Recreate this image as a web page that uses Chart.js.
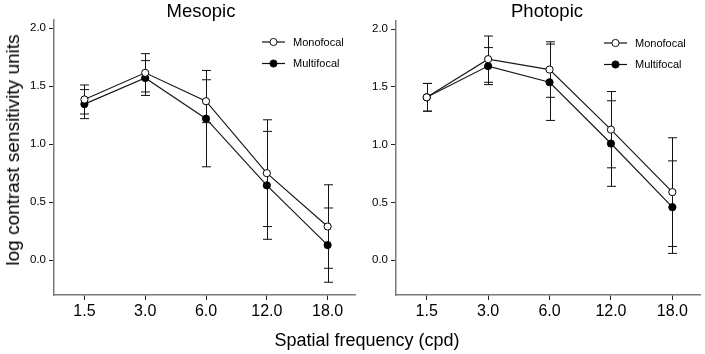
<!DOCTYPE html>
<html>
<head>
<meta charset="utf-8">
<script src="https://cdn.jsdelivr.net/npm/chart.js@4.4.1/dist/chart.umd.min.js"></script>
<style>
  body { margin: 0; background: #fff; }
  #wrap { position: relative; width: 705px; height: 354px; background: #fff; font-family: "Liberation Sans", Arial, sans-serif; color: #000; }
  #c-meso { position: absolute; left: 0; top: 0; }
  #c-photo { position: absolute; left: 360px; top: 0; }
  .ttl { position: absolute; top: 0px; font-size: 18.5px; white-space: nowrap; transform: translateX(-50%); }
  #ylab { position: absolute; left: 13px; top: 150px; font-size: 19px; white-space: nowrap; transform: translate(-50%, -50%) rotate(-90deg); }
  #xlab { position: absolute; left: 367px; top: 340px; font-size: 18px; white-space: nowrap; transform: translate(-50%, -50%); }
</style>
</head>
<body>
<div id="wrap">
  <canvas id="c-meso" width="360" height="354"></canvas>
  <canvas id="c-photo" width="345" height="354"></canvas>
  <div class="ttl" style="left:201px">Mesopic</div>
  <div class="ttl" style="left:547px">Photopic</div>
  <div id="ylab">log contrast sensitivity units</div>
  <div id="xlab">Spatial frequency (cpd)</div>
</div>
<script>
/* contrast sensitivity, mean ± SD */
const freqLabels = ["1.5", "3.0", "6.0", "12.0", "18.0"];
const yTicks = [0, 0.5, 1.0, 1.5, 2.0];

const mesopicMono = [1.385, 1.615, 1.37, 0.75, 0.29];
const mesopicMonoSd = [0.125, 0.165, 0.185, 0.46, 0.36];
const mesopicMulti = [1.345, 1.57, 1.22, 0.645, 0.13];
const mesopicMultiSd = [0.125, 0.15, 0.415, 0.465, 0.32];

const photopicMono = [1.41, 1.74, 1.65, 1.13, 0.59];
const photopicMonoSd = [0.12, 0.2, 0.24, 0.33, 0.47];
const photopicMulti = [1.41, 1.68, 1.54, 1.01, 0.46];
const photopicMultiSd = [0.12, 0.16, 0.33, 0.37, 0.4];

const FONT = "'Liberation Sans', Arial, sans-serif";
const AXIS = "#7a7a7a";

const errorBars = {
  id: "errorBars",
  beforeDatasetsDraw(chart) {
    const { ctx, scales } = chart;
    ctx.save();
    ctx.strokeStyle = "#111";
    ctx.lineWidth = 1;
    chart.data.datasets.forEach((ds) => {
      ds.data.forEach((p, i) => {
        const sd = ds.sd[i];
        const x = Math.round(scales.x.getPixelForValue(p.x)) + 0.5;
        const y1 = scales.y.getPixelForValue(p.y + sd);
        const y2 = scales.y.getPixelForValue(p.y - sd);
        ctx.beginPath();
        ctx.moveTo(x, y1);
        ctx.lineTo(x, y2);
        ctx.moveTo(x - 4.5, y1);
        ctx.lineTo(x + 4.5, y1);
        ctx.moveTo(x - 4.5, y2);
        ctx.lineTo(x + 4.5, y2);
        ctx.stroke();
      });
    });
    ctx.restore();
  },
};

const insetLegend = {
  id: "insetLegend",
  afterDraw(chart) {
    const { ctx, chartArea } = chart;
    const x0 = chartArea.left + 208;
    ctx.save();
    ctx.font = "11px " + FONT;
    ctx.textBaseline = "middle";
    chart.data.datasets.forEach((ds, i) => {
      const y = chartArea.top + 22 + i * 21.5;
      ctx.strokeStyle = "#111";
      ctx.lineWidth = 1.2;
      ctx.beginPath();
      ctx.moveTo(x0, y);
      ctx.lineTo(x0 + 23, y);
      ctx.stroke();
      ctx.lineWidth = 1;
      ctx.beginPath();
      ctx.arc(x0 + 11.5, y, 3.6, 0, Math.PI * 2);
      ctx.fillStyle = ds.pointBackgroundColor;
      ctx.fill();
      ctx.stroke();
      ctx.fillStyle = "#000";
      ctx.fillText(ds.label, x0 + 31, y + 0.5);
    });
    ctx.restore();
  },
};

function series(values) {
  return values.map((v, i) => ({ x: i, y: v }));
}

function makePanel(id, mono, monoSd, multi, multiSd, axisWidth, pad) {
  return new Chart(document.getElementById(id), {
    type: "line",
    data: {
      datasets: [
        {
          label: "Monofocal",
          data: series(mono),
          sd: monoSd,
          borderColor: "#1a1a1a",
          borderWidth: 1.2,
          pointRadius: 3.6,
          pointBorderWidth: 1,
          pointBorderColor: "#000",
          pointBackgroundColor: "#fff",
        },
        {
          label: "Multifocal",
          data: series(multi),
          sd: multiSd,
          borderColor: "#1a1a1a",
          borderWidth: 1.2,
          pointRadius: 3.6,
          pointBorderWidth: 1,
          pointBorderColor: "#000",
          pointBackgroundColor: "#000",
        },
      ],
    },
    options: {
      responsive: false,
      animation: false,
      events: [],
      layout: { padding: pad },
      plugins: { legend: { display: false }, tooltip: { enabled: false } },
      scales: {
        x: {
          type: "linear",
          min: -0.5,
          max: 4.45,
          afterBuildTicks: (s) => { s.ticks = freqLabels.map((_, i) => ({ value: i })); },
          afterFit: (s) => { s.height = 59; },
          ticks: { callback: (v) => freqLabels[v], font: { size: 16, family: FONT }, color: "#000", padding: 2, maxRotation: 0 },
          grid: { drawOnChartArea: false, drawTicks: true, tickLength: 5, color: "#222" },
          border: { display: true, color: AXIS, width: 1.5 },
        },
        y: {
          type: "linear",
          min: -0.3,
          max: 2.07,
          afterBuildTicks: (s) => { s.ticks = yTicks.map((v) => ({ value: v })); },
          afterFit: (s) => { s.width = axisWidth; },
          ticks: { callback: (v) => v.toFixed(1), font: { size: 11.5, family: FONT }, color: "#000", padding: 3 },
          grid: { drawOnChartArea: false, drawTicks: true, tickLength: 5, color: "#222" },
          border: { display: true, color: AXIS, width: 1.5 },
        },
      },
    },
    plugins: [errorBars, insetLegend],
  });
}

makePanel("c-meso", mesopicMono, mesopicMonoSd, mesopicMulti, mesopicMultiSd, 54, { top: 20, right: 3, left: 0, bottom: 0 });
makePanel("c-photo", photopicMono, photopicMonoSd, photopicMulti, photopicMultiSd, 36, { top: 21, right: 5, left: 0, bottom: 0 });
</script>
</body>
</html>
